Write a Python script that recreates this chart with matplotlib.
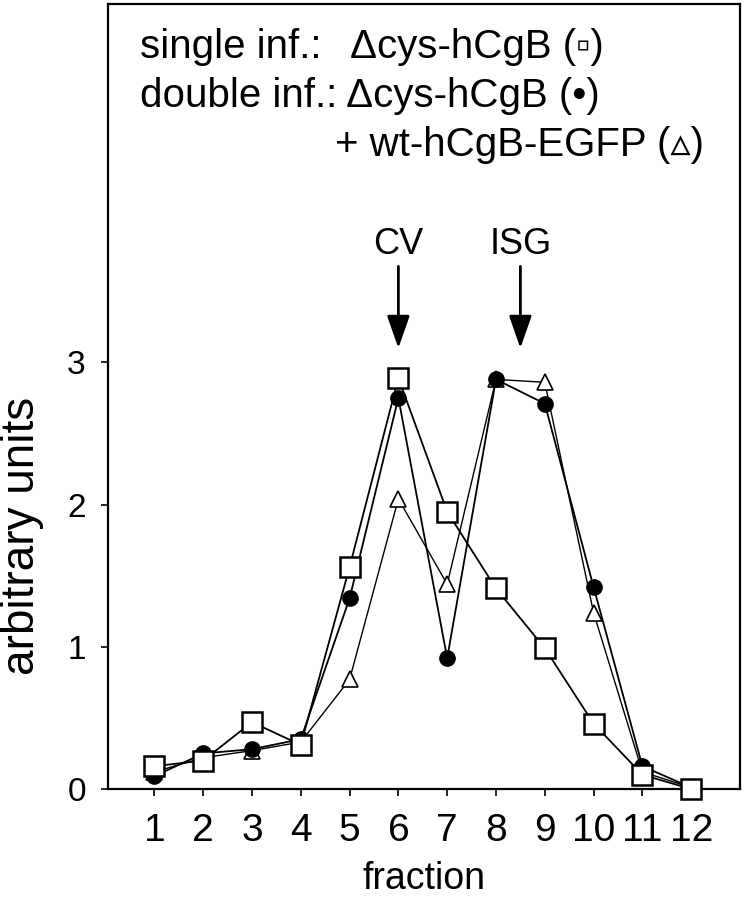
import matplotlib
matplotlib.use("Agg")
import matplotlib.pyplot as plt
from matplotlib import font_manager

fractions = [1, 2, 3, 4, 5, 6, 7, 8, 9, 10, 11, 12]
single_dcys = [0.16, 0.20, 0.47, 0.31, 1.56, 2.89, 1.95, 1.41, 0.99, 0.46, 0.10, 0.00]
double_dcys = [0.09, 0.25, 0.28, 0.35, 1.34, 2.75, 0.92, 2.88, 2.71, 1.42, 0.16, 0.01]
double_wt = [0.12, 0.22, 0.27, 0.33, 0.77, 2.04, 1.44, 2.88, 2.86, 1.24, 0.12, 0.01]
yticks = [0, 1, 2, 3]
arrow_labels = ["CV", "ISG"]
arrow_x = [6, 8.5]

names = {f.name for f in font_manager.fontManager.ttflist}
narrow = "Liberation Sans Narrow" if "Liberation Sans Narrow" in names else "Liberation Sans"
FAM_N = [narrow, "DejaVu Sans"]
FAM_R = ["Liberation Sans", "DejaVu Sans"]

W, H = 749, 899
fig = plt.figure(figsize=(W / 100, H / 100), dpi=100)
ax = fig.add_axes([108 / W, 110 / H, (740 - 108) / W, (789 - 4) / H])

ax.plot(fractions, double_wt, color="k", lw=1.0, marker="^", ms=12, mfc="white",
        mec="k", mew=1.2, zorder=3, clip_on=False)
ax.plot(fractions, double_dcys, color="k", lw=1.3, marker="o", ms=11, mfc="k",
        mec="k", zorder=4, clip_on=False)
ax.plot(fractions, single_dcys, color="k", lw=1.3, marker="s", ms=14, mfc="white",
        mec="k", mew=1.8, zorder=5, clip_on=False)

ax.set_xlim(0.05, 13.0)
ax.set_ylim(0, 5.52)
ax.set_xticks(fractions)
ax.set_xticklabels([str(f) for f in fractions], fontfamily=FAM_N, fontsize=28)
ax.set_yticks(yticks)
ax.set_yticklabels([str(v) for v in yticks], fontfamily=FAM_R, fontsize=24)
for s in ax.spines.values():
    s.set_linewidth(1.6)
ax.tick_params(direction="out", length=5, width=1.2)
ax.tick_params(axis="x", pad=12)
ax.tick_params(axis="y", pad=11)

ax.set_xlabel("fraction", fontfamily=FAM_N, fontsize=27, labelpad=9)
fig.text(22 / W, 1 - 536 / H, "arbitrary units", rotation=90, ha="center", va="center",
         fontfamily=FAM_R, fontsize=33)

for lab, xv in zip(arrow_labels, arrow_x):
    ax.text(xv, 3.83, lab, ha="center", va="center", fontfamily=FAM_R, fontsize=26)
    ax.annotate("", xy=(xv, 3.10), xytext=(xv, 3.675),
                arrowprops=dict(arrowstyle="-|>,head_length=1.0,head_width=0.35",
                                mutation_scale=20, lw=2, color="k", shrinkA=0, shrinkB=0))

def ftext(x, y, s):
    fig.text(x / W, 1 - y / H, s, ha="left", va="baseline", fontfamily=FAM_N, fontsize=29)

ftext(140, 58, "single inf.:")
ftext(350, 58, "\u0394cys-hCgB (\u25ab)")
ftext(140, 107, "double inf.: \u0394cys-hCgB (\u2022)")
ftext(335, 156, "+ wt-hCgB-EGFP (\u25b5)")

fig.savefig("out.png", dpi=100)
